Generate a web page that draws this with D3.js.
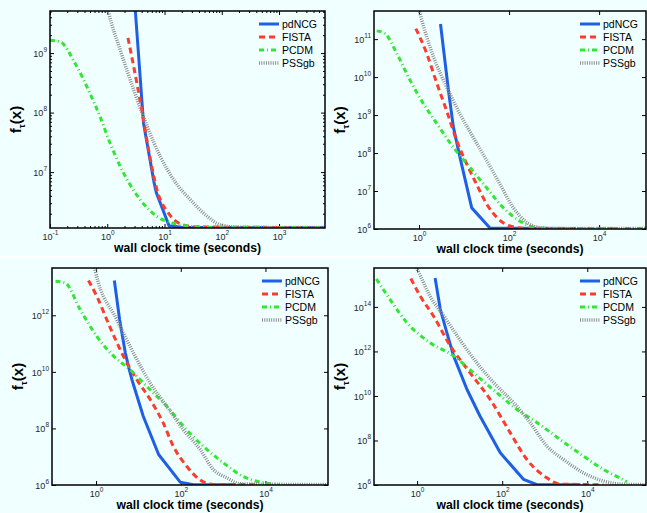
<!DOCTYPE html>
<html>
<head>
<meta charset="utf-8">
<script src="https://cdnjs.cloudflare.com/ajax/libs/d3/7.8.5/d3.min.js"></script>
<style>
body { margin: 0; background: #f0ffff; }
svg { display: block; font-family: "Liberation Sans", Arial, sans-serif; }
</style>
</head>
<body>
<svg id="chart" width="647" height="513"></svg>
<script>
// series names, in legend order
const seriesNames = ["pdNCG", "FISTA", "PCDM", "PSSgb"];

// panel 1 (top left): [time, f] pairs
const a_pdNCG = [[2.95, 1e10], [3.1, 5e9], [4.3, 6.6e7], [6.5, 7e6], [7.2, 4.5e6], [12, 1.25e6], [20, 1.18e6], [6500, 1.17e6]];
const a_FISTA = [[2.3, 1.8e9], [2.9, 5.9e8], [4.1, 9.8e7], [5.3, 2.3e7], [7.4, 5e6], [11.9, 2e6], [19, 1.35e6], [35, 1.2e6], [6500, 1.17e6]];
const a_PCDM = [[0.1, 1.65e9], [0.15, 1.55e9], [0.275, 6.7e8], [0.5, 2.1e8], [0.75, 8.5e7], [1.13, 3e7], [1.93, 9.6e6], [3.8, 3.4e6], [7.4, 1.8e6], [14.5, 1.37e6], [43, 1.2e6], [150, 1.17e6], [6500, 1.17e6]];
const a_PSSgb = [[1.0, 6e9], [1.05, 4.9e9], [1.7, 1.1e9], [2.9, 2.4e8], [5, 5.8e7], [8.5, 1.8e7], [14.5, 7.4e6], [28.6, 3.4e6], [56, 1.8e6], [95, 1.3e6], [200, 1.18e6], [6500, 1.17e6]];

// panel 2 (top right)
const b_pdNCG = [[3.0, 2.5e11], [4.5, 4.5e9], [5.8, 4.8e8], [8.1, 7.8e7], [14.8, 3.6e6], [38, 1.05e6], [3000, 1.03e6]];
const b_FISTA = [[0.85, 1.9e11], [1.48, 4.2e10], [2.5, 6.7e9], [4.1, 1.3e9], [6.9, 2.1e8], [11.5, 5.1e7], [19, 1.5e7], [32, 4.5e6], [54, 2e6], [105, 1.2e6], [250, 1.04e6], [2e4, 1.03e6]];
const b_PCDM = [[0.115, 1.65e11], [0.175, 1.4e11], [0.32, 4.2e10], [0.63, 8.3e9], [1.25, 2e9], [2.5, 5.9e8], [5.8, 1.4e8], [13.5, 4.2e7], [32, 1.2e7], [75, 3.6e6], [175, 1.6e6], [415, 1.08e6], [1000, 1.03e6], [1.1e5, 1.03e6]];
const b_PSSgb = [[1.0, 6e11], [1.05, 4.8e11], [2.1, 3.4e10], [4.1, 5.5e9], [8.1, 1.07e9], [16, 2.6e8], [32, 6.3e7], [63, 1.5e7], [125, 3.6e6], [245, 1.5e6], [490, 1.08e6], [1000, 1.03e6], [1.1e5, 1.03e6]];

// panel 3 (bottom left)
const c_pdNCG = [[2.7, 1.7e13], [3.6, 7e11], [4.9, 4.7e10], [6.0, 1.3e10], [7, 5.4e9], [13, 2.7e8], [30, 1.2e7], [97, 1.26e6], [200, 1.03e6], [2000, 1.03e6]];
const c_FISTA = [[0.66, 1.7e13], [1.04, 4.7e12], [2.1, 4e11], [4.4, 3.6e10], [9.1, 5.4e9], [19, 1.05e9], [39, 1.5e8], [67, 2.3e7], [138, 4.6e6], [288, 1.5e6], [590, 1.05e6], [6000, 1.03e6]];
const c_PCDM = [[0.11, 1.6e13], [0.185, 1.4e13], [0.42, 1.6e12], [1.04, 1.8e11], [2.6, 3.6e10], [6.3, 1.2e10], [19, 2.3e9], [47, 6e8], [115, 1.2e8], [345, 2.3e7], [1020, 6e6], [3000, 2e6], [9000, 1.2e6], [2.2e4, 1.03e6]];
const c_PSSgb = [[0.9, 6e13], [0.95, 4e13], [3.1, 7e11], [7.6, 4.7e10], [19, 4e9], [47, 6e8], [115, 9e7], [288, 1.8e7], [590, 3.5e6], [1230, 1.8e6], [2500, 1.1e6], [3e5, 1.03e6]];

// panel 4 (bottom right)
const d_pdNCG = [[2.65, 2e15], [3.5, 8e13], [5, 7e12], [7.2, 6.3e11], [14.8, 2e10], [30, 1.26e9], [90, 2.8e7], [316, 1.8e6], [660, 1.03e6], [6900, 1.03e6]];
const d_FISTA = [[0.71, 1.9e15], [1.18, 3.1e14], [2.4, 4e13], [6, 1.8e12], [17.6, 1.1e11], [52, 7e9], [155, 2.2e8], [380, 1.4e7], [1120, 2.1e6], [2300, 1.1e6], [2.4e4, 1.03e6]];
const d_PCDM = [[0.11, 1.8e15], [0.23, 2.2e14], [0.57, 2e13], [2, 2.5e12], [7.2, 6.3e11], [21, 1.1e11], [75, 1.4e10], [220, 2.5e9], [660, 6.3e8], [2300, 1.1e8], [8100, 2e7], [2.4e4, 5e6], [7.2e4, 1.67e6], [8.5e4, 1.4e6]];
const d_PSSgb = [[0.95, 6e15], [1, 5e15], [2, 3.1e14], [4.2, 4e13], [10, 3.5e12], [25, 3.2e11], [63, 4e10], [185, 5e9], [455, 6.3e8], [1120, 5.6e7], [2750, 1.4e7], [8100, 3.5e6], [2.4e4, 1.5e6], [6e4, 1.1e6], [3e5, 1.03e6]];

// tick values
const a_xTicks = [0.1, 1, 10, 100, 1000];
const a_yTicks = [1e7, 1e8, 1e9];
const b_xTicks = [1, 100, 1e4];
const b_yTicks = [1e6, 1e7, 1e8, 1e9, 1e10, 1e11];
const c_xTicks = [1, 100, 1e4];
const c_yTicks = [1e6, 1e8, 1e10, 1e12];
const d_xTicks = [1, 100, 1e4];
const d_yTicks = [1e6, 1e8, 1e10, 1e12, 1e14];

// line styles per series
const styles = [
  { color: "#1f5fe6", width: 3, dash: null },
  { color: "#ff3b2b", width: 3, dash: "6,4" },
  { color: "#33e633", width: 3, dash: "5,3,1,3" },
  { color: "#8c8c8c", width: 3.5, dash: "1,1.3" }
];

const panels = [
  { x: 50, y: 11, w: 275, h: 217, xd: [0.1, 6350], yd: [1.15e6, 5.1e9], xt: a_xTicks, yt: a_yTicks, minor: true, data: [a_pdNCG, a_FISTA, a_PCDM, a_PSSgb] },
  { x: 374, y: 11, w: 272, h: 218, xd: [0.1, 1.1e5], yd: [1e6, 5.5e11], xt: b_xTicks, yt: b_yTicks, minor: false, data: [b_pdNCG, b_FISTA, b_PCDM, b_PSSgb] },
  { x: 52, y: 268, w: 276, h: 217, xd: [0.091, 3e5], yd: [1e6, 4.7e13], xt: c_xTicks, yt: c_yTicks, minor: false, data: [c_pdNCG, c_FISTA, c_PCDM, c_PSSgb] },
  { x: 374, y: 268, w: 272, h: 217, xd: [0.097, 2.4e5], yd: [1e6, 5.6e15], xt: d_xTicks, yt: d_yTicks, minor: false, data: [d_pdNCG, d_FISTA, d_PCDM, d_PSSgb] }
];

const svg = d3.select("#chart");
svg.append("rect").attr("width", 647).attr("height", 513).attr("fill", "#f0ffff");
// seam between the two halves of the figure
svg.append("rect").attr("x", 0).attr("y", 256).attr("width", 647).attr("height", 2).attr("fill", "#ffffff");

function powLabel(text, v) {
  const e = Math.round(Math.log10(v));
  text.append("tspan").text("10");
  text.append("tspan").attr("dy", -5).attr("font-size", 6.5).text(e);
}

function minorTicks(dom) {
  const out = [];
  const lo = Math.floor(Math.log10(dom[0])), hi = Math.ceil(Math.log10(dom[1]));
  for (let k = lo; k <= hi; k++) {
    for (let m = 2; m <= 9; m++) {
      const v = m * Math.pow(10, k);
      if (v > dom[0] && v < dom[1]) out.push(v);
    }
  }
  return out;
}

panels.forEach(function (p, i) {
  const x = d3.scaleLog().domain(p.xd).range([0, p.w]);
  const y = d3.scaleLog().domain(p.yd).range([p.h, 0]);
  const g = svg.append("g").attr("transform", "translate(" + p.x + "," + p.y + ")");

  svg.append("clipPath").attr("id", "clip" + i)
    .append("rect").attr("width", p.w).attr("height", p.h);

  // ticks, pointing inward on all four sides
  const noText = function (sel) { sel.select(".domain").remove(); sel.selectAll("line").attr("stroke", "#000"); };
  if (p.minor) {
    g.append("g").attr("transform", "translate(0," + p.h + ")").call(d3.axisBottom(x).tickValues(minorTicks(p.xd)).tickSize(-2).tickFormat("")).call(noText);
    g.append("g").call(d3.axisTop(x).tickValues(minorTicks(p.xd)).tickSize(-2).tickFormat("")).call(noText);
    g.append("g").call(d3.axisLeft(y).tickValues(minorTicks(p.yd)).tickSize(-2).tickFormat("")).call(noText);
    g.append("g").attr("transform", "translate(" + p.w + ",0)").call(d3.axisRight(y).tickValues(minorTicks(p.yd)).tickSize(-2).tickFormat("")).call(noText);
  }
  const xb = g.append("g").attr("transform", "translate(0," + p.h + ")")
    .call(d3.axisBottom(x).tickValues(p.xt).tickSize(-4).tickFormat("")).call(noText);
  g.append("g").call(d3.axisTop(x).tickValues(p.xt).tickSize(-4).tickFormat("")).call(noText);
  const yl = g.append("g").call(d3.axisLeft(y).tickValues(p.yt).tickSize(-4).tickFormat("")).call(noText);
  g.append("g").attr("transform", "translate(" + p.w + ",0)")
    .call(d3.axisRight(y).tickValues(p.yt).tickSize(-4).tickFormat("")).call(noText);

  xb.selectAll(".tick").append("text")
    .attr("y", 12).attr("text-anchor", "middle").attr("font-size", 9).attr("fill", "#262626")
    .each(function (d) { powLabel(d3.select(this), d); });
  yl.selectAll(".tick").append("text")
    .attr("x", -3).attr("dy", "0.35em").attr("text-anchor", "end").attr("font-size", 9).attr("fill", "#262626")
    .each(function (d) { powLabel(d3.select(this), d); });

  // curves
  const line = d3.line().x(d => x(d[0])).y(d => y(d[1]));
  const plot = g.append("g").attr("clip-path", "url(#clip" + i + ")");
  p.data.forEach(function (s, k) {
    const st = styles[k];
    line.curve(k === 0 ? d3.curveLinear : d3.curveMonotoneX);
    plot.append("path").attr("d", line(s))
      .attr("fill", "none").attr("stroke", st.color).attr("stroke-width", st.width)
      .attr("stroke-dasharray", st.dash).attr("stroke-linejoin", "round");
  });

  // box
  g.append("rect").attr("width", p.w).attr("height", p.h)
    .attr("fill", "none").attr("stroke", "#000").attr("stroke-width", 1.5);

  // legend
  const lx = p.w - 66, ly = 13;
  seriesNames.forEach(function (name, k) {
    const st = styles[k];
    const ry = ly + k * 13;
    g.append("line").attr("x1", lx).attr("x2", lx + 20).attr("y1", ry).attr("y2", ry)
      .attr("stroke", st.color).attr("stroke-width", st.width).attr("stroke-dasharray", st.dash);
    g.append("text").attr("x", lx + 23).attr("y", ry).attr("dy", "0.35em")
      .attr("font-size", 10.5).attr("fill", "#000").text(name);
  });

  // axis labels
  g.append("text").attr("x", p.w / 2).attr("y", p.h + 24)
    .attr("text-anchor", "middle").attr("font-size", 12.2).attr("font-weight", "bold")
    .text("wall clock time (seconds)");
  const yt = g.append("text")
    .attr("transform", "translate(" + (-29) + "," + (p.h / 2) + ") rotate(-90)")
    .attr("text-anchor", "middle").attr("font-size", 15).attr("font-weight", "bold");
  yt.append("tspan").text("f");
  yt.append("tspan").attr("dy", 4).attr("font-size", 9).text("τ");
  yt.append("tspan").attr("dy", -4).text("(x)");
});
</script>
</body>
</html>
